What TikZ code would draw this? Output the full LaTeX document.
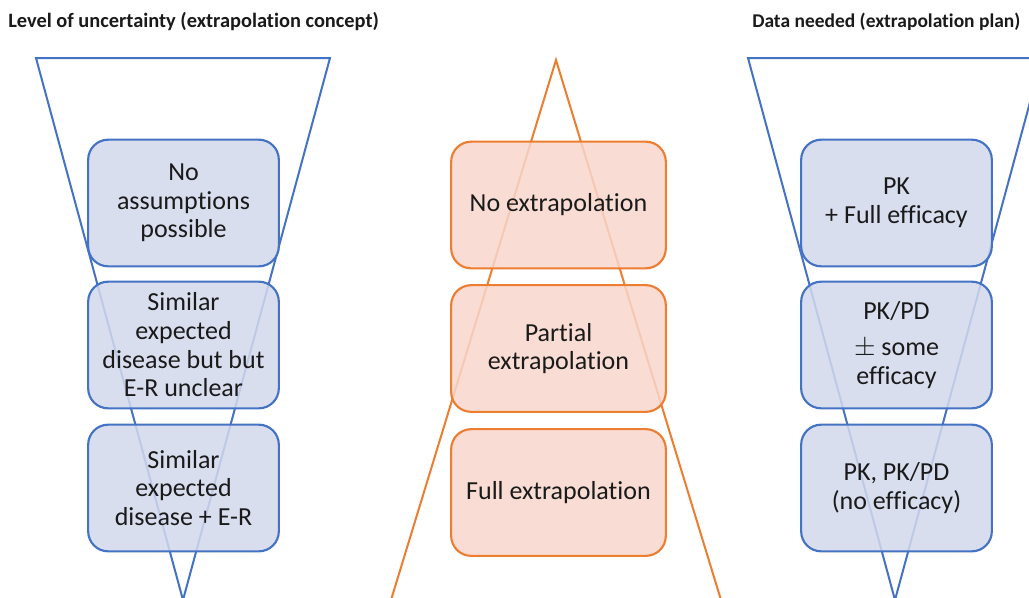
\documentclass[tikz,border=0pt]{standalone}
\usepackage{fontspec}
\setmainfont{Carlito}[Ligatures=NoCommon]
\definecolor{bline}{HTML}{4472C4}
\definecolor{bfill}{HTML}{D3D9ED}
\definecolor{oline}{HTML}{ED7D31}
\definecolor{ofill}{HTML}{F8D6CC}
\definecolor{txt}{HTML}{1A1A1A}
\tikzset{
  x=0.75pt, y=-0.75pt,
  bluebox/.style={draw=bline, fill=bfill, fill opacity=0.85, text opacity=1, line width=1.6pt, rounded corners=15pt,
    minimum width=143pt, minimum height=95pt, align=center, text=txt, font=\fontsize{19.5}{21.5}\selectfont, inner sep=2pt},
  orangebox/.style={bluebox, draw=oline, fill=ofill, minimum width=161pt},
  bluetri/.style={draw=bline, line width=1.5pt},
  orangetri/.style={draw=oline, line width=1.5pt},
  titletext/.style={font=\fontsize{15.3}{17}\bfseries\selectfont, text=txt, inner sep=0pt}
}
\begin{document}
\begin{tikzpicture}
\useasboundingbox (0,0) rectangle (1029,597);
\clip (0,0) rectangle (1029,597);
\fill[white] (0,0) rectangle (1029,597);
% titles
\node[titletext, anchor=west] (t1) at (8,22) {Level of uncertainty (extrapolation concept)};
\node[titletext, anchor=west, font=\fontsize{14.6}{17}\bfseries\selectfont] (t2) at (752,22) {Data needed (extrapolation plan)};
% triangles
\coordinate (l1) at (36,58); \coordinate (l2) at (330,58); \coordinate (l3) at (183,600);
\draw[bluetri] (l3) -- (l1) -- (l2) -- (l3);
\coordinate (c1) at (556,60); \coordinate (c2) at (391,600); \coordinate (c3) at (721,600);
\draw[orangetri] (c2) -- (c1) -- (c3);
\coordinate (r1) at (748,58); \coordinate (r2) at (1042,58); \coordinate (r3) at (895,600);
\draw[bluetri] (r3) -- (r1) -- (r2) -- (r3);
% left boxes
\node[bluebox] (a1) at (183.5,203) {No\\assumptions\\possible};
\node[bluebox] (a2) at (183.5,345) {Similar\\expected\\disease but but\\E-R unclear};
\node[bluebox] (a3) at (183.5,488) {Similar\\expected\\disease + E-R};
% center boxes
\node[orangebox] (b1) at (558.5,205) {No extrapolation};
\node[orangebox] (b2) at (558.5,348.5) {Partial\\extrapolation};
\node[orangebox] (b3) at (558.5,492.5) {Full extrapolation};
% right boxes
\node[bluebox] (d1) at (896.5,203) {PK\\+ Full efficacy};
\node[bluebox] (d2) at (896.5,345) {PK/PD\\[6pt]$\pm$ some\\efficacy};
\node[bluebox] (d3) at (896.5,488) {PK, PK/PD\\(no efficacy)};
\end{tikzpicture}
\end{document}
